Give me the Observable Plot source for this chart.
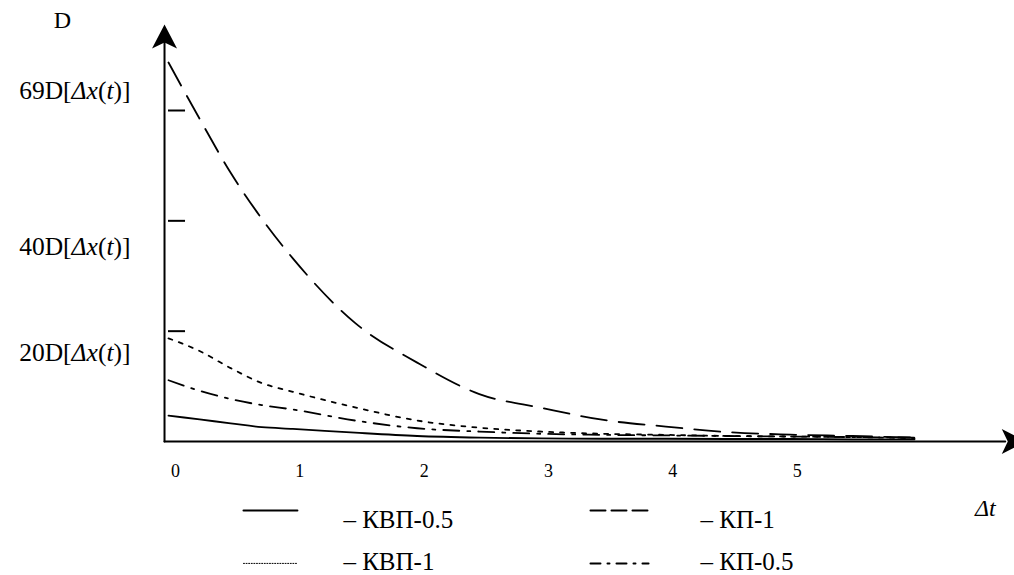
<!DOCTYPE html>
<html><head><meta charset="utf-8">
<script src="https://cdn.jsdelivr.net/npm/d3@7"></script>
<script src="https://cdn.jsdelivr.net/npm/@observablehq/plot@0.6"></script>
<style>
body{margin:0;background:#fff;}
svg{display:block}
</style>
</head><body><div id="chart"></div>
<script>
// ---- data ----
const t = [0, 0.25, 0.5, 0.75, 1, 1.5, 2, 2.5, 3, 3.5, 4, 4.5, 5, 5.5, 6];
const kvp05 = [4.7, 4.0, 3.3, 2.6, 2.3, 1.6, 1.0, 0.7, 0.55, 0.5, 0.5, 0.45, 0.45, 0.4, 0.4];
const kvp1  = [18.7, 16.4, 13.3, 10.6, 9.0, 6.2, 3.8, 2.5, 1.8, 1.4, 1.2, 1.0, 0.9, 0.8, 0.6];
const kp1   = [68.7, 58.5, 48.7, 40.4, 33.2, 21.5, 14.3, 8.6, 6.1, 3.9, 2.7, 1.7, 1.25, 1.0, 0.7];
const kp05  = [11.1, 9.2, 7.7, 6.6, 5.8, 3.8, 2.4, 1.8, 1.4, 1.2, 1.1, 1.0, 0.9, 0.8, 0.7];
const seriesNames = ["КВП-0.5", "КВП-1", "КП-1", "КП-0.5"];
const seriesValues = [kvp05, kvp1, kp1, kp05];
const xTickValues = [0, 1, 2, 3, 4, 5];
const xTickLabels = ["0", "1", "2", "3", "4", "5"];
const yTickValues = [20, 40, 60];
const yTickLabels = ["20D[Δx(t)]", "40D[Δx(t)]", "69D[Δx(t)]"];
const yAxisTitle = "D";
const xAxisTitle = "Δt";

// ---- styles ----
const lineDash = {"КВП-0.5": null, "КВП-1": "4,7", "КП-1": "26,12", "КП-0.5": "16,8,3,8"};
const legendDash = {"КВП-0.5": null, "КВП-1": "1,1.6", "КП-1": "15,6", "КП-0.5": "10,7,2,7"};
const legendWidth = {"КВП-0.5": 2, "КВП-1": 1, "КП-1": 2, "КП-0.5": 2};
const legendCell = {"КВП-0.5": [0, 0], "КП-1": [1, 0], "КВП-1": [0, 1], "КП-0.5": [1, 1]};
const legendSampleX = [[0.603, 1.037], [3.394, 3.861]];
const legendTextX = [1.407, 4.279];
const legendSampleY = [-12.5, -22.1];
const legendTextY = [-14.3, -21.9];
const yLabelAt = [16.1, 35.3, 63.6];

const rows = [];
seriesNames.forEach((name, i) => t.forEach((x, j) => rows.push({name, x, y: seriesValues[i][j]})));

const legendLines = [];
const legendTexts = [];
seriesNames.forEach(name => {
  const [c, r] = legendCell[name];
  legendLines.push({name, x: legendSampleX[c][0], y: legendSampleY[r]});
  legendLines.push({name, x: legendSampleX[c][1], y: legendSampleY[r]});
  legendTexts.push({text: "– " + name, x: legendTextX[c], y: legendTextY[r]});
});

// barbed arrow head pointing up, tip at origin
const arrowHead = {
  draw(ctx) {
    ctx.moveTo(0, 0);
    ctx.lineTo(12.5, 24);
    ctx.lineTo(0, 18);
    ctx.lineTo(-12.5, 24);
    ctx.closePath();
  }
};

const axisLeftX = -0.032, axisTopY = 74.2, axisRightX = 6.73;

const marks = [
  // axes
  Plot.line([{x: axisLeftX, y: 0}, {x: axisLeftX, y: axisTopY}], {x: "x", y: "y", stroke: "black", strokeWidth: 2}),
  Plot.line([{x: axisLeftX, y: 0}, {x: axisRightX, y: 0}], {x: "x", y: "y", stroke: "black", strokeWidth: 2}),
  Plot.dot([{x: axisLeftX, y: 75.6}], {x: "x", y: "y", symbol: arrowHead, fill: "black", stroke: "none", r: 10}),
  Plot.dot([{x: 6.895, y: 0}], {x: "x", y: "y", symbol: arrowHead, fill: "black", stroke: "none", r: 10, rotate: 90}),
  // y ticks
  Plot.ruleY(yTickValues, {x1: 0, x2: 0.137, stroke: "black", strokeWidth: 2}),
  // series
  ...seriesNames.map(name => Plot.line(rows.filter(d => d.name === name), {
    x: "x", y: "y", stroke: "black", strokeWidth: 1.8, curve: "monotone-x",
    strokeDasharray: lineDash[name]
  })),
  // x tick labels
  Plot.text(xTickValues, {x: d => d, y: -5.3, text: (d, i) => xTickLabels[i], dx: 7, fontSize: 18, fill: "black"}),
  // y labels
  Plot.text(yTickLabels, {x: -0.306, y: (d, i) => yLabelAt[i], text: d => d, textAnchor: "end", fontSize: 25.5, fill: "black", className: "ital"}),
  Plot.text([yAxisTitle], {x: -0.853, y: 76.3, text: d => d, fontSize: 24, fill: "black"}),
  Plot.text([xAxisTitle], {x: 6.57, y: -12.1, text: d => d, fontSize: 24, fill: "black", className: "ital"}),
  // legend
  ...seriesNames.map(name => Plot.line(legendLines.filter(d => d.name === name), {
    x: "x", y: "y", stroke: "black", strokeWidth: legendWidth[name], strokeDasharray: legendDash[name]
  })),
  Plot.text(legendTexts, {x: "x", y: "y", text: "text", textAnchor: "start", fontSize: 25, fill: "black"})
];

const plot = Plot.plot({
  width: 1014,
  height: 575,
  margin: 0,
  style: {fontFamily: "'Liberation Serif', 'Times New Roman', serif", background: "white"},
  x: {domain: [0, 6], range: [168, 914], axis: null},
  y: {domain: [0, 60], range: [441, 110], axis: null},
  marks
});

// italicise Δ, x, t inside the formula labels
const italicChars = new Set(["Δ", "x", "t"]);
d3.select(plot).selectAll(".ital text").each(function () {
  const s = this.textContent;
  const sel = d3.select(this);
  sel.text(null);
  let buf = "", ital = null;
  const flush = () => {
    if (!buf) return;
    sel.append("tspan").attr("font-style", ital ? "italic" : null).text(buf);
    buf = "";
  };
  for (const ch of s) {
    const it = italicChars.has(ch);
    if (ital !== null && it !== ital) flush();
    ital = it;
    buf += ch;
  }
  flush();
});

document.getElementById("chart").appendChild(plot);
</script>
</body></html>
